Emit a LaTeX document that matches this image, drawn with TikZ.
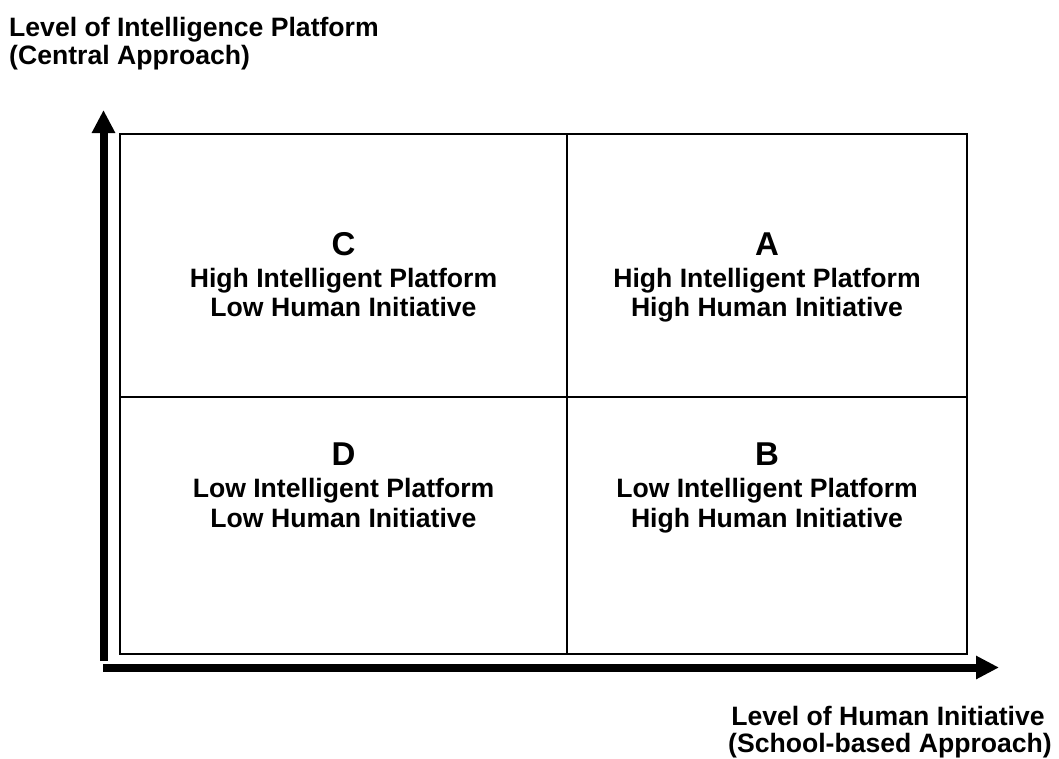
\documentclass[tikz,border=0pt]{standalone}
\usepackage{fontspec}
\setmainfont{Liberation Sans}
\usetikzlibrary{arrows.meta}
\tikzset{
  lbl/.style={font=\fontsize{26.6}{30}\selectfont\bfseries, inner sep=0pt, anchor=base},
  big/.style={font=\fontsize{33}{36}\selectfont\bfseries, inner sep=0pt, anchor=base},
  frame/.style={draw=black, line width=2pt},
  axis/.style={line width=8pt, -{Triangle[length=23pt,width=22pt]}}
}
\begin{document}
\begin{tikzpicture}[x=1pt,y=-1pt]
\useasboundingbox (0,0) rectangle (1059,758);
% grid
\draw[frame] (120,134) rectangle (967,654);
\coordinate (vt) at (567,134);
\coordinate (vb) at (567,654);
\coordinate (hl) at (120,397);
\coordinate (hr) at (967,397);
\draw[frame] (vt) -- (vb);
\draw[frame] (hl) -- (hr);
% axes
\coordinate (yorig) at (103.5,661);
\coordinate (ytip) at (103.5,110);
\coordinate (xorig) at (103,667.5);
\coordinate (xtip) at (999,667.5);
\draw[axis] (yorig) -- (ytip);
\draw[axis] (xorig) -- (xtip);
% axis labels
\node[lbl, anchor=base west] (yl1) at (9,36) {Level of Intelligence Platform};
\node[lbl, anchor=base west] (yl2) at (9,64) {(Central Approach)};
\node[lbl] (xl1) at (888,725) {Level of Human Initiative};
\node[lbl] (xl2) at (890,752) {(School-based Approach)};
% quadrant C
\node[big] (cL) at (343.5,255) {C};
\node[lbl] (c1) at (343.5,287) {High Intelligent Platform};
\node[lbl] (c2) at (343.5,316) {Low Human Initiative};
% quadrant A
\node[big] (aL) at (767,255) {A};
\node[lbl] (a1) at (767,287) {High Intelligent Platform};
\node[lbl] (a2) at (767,316) {High Human Initiative};
% quadrant D
\node[big] (dL) at (343.5,465) {D};
\node[lbl] (d1) at (343.5,497) {Low Intelligent Platform};
\node[lbl] (d2) at (343.5,527) {Low Human Initiative};
% quadrant B
\node[big] (bL) at (767,465) {B};
\node[lbl] (b1) at (767,497) {Low Intelligent Platform};
\node[lbl] (b2) at (767,527) {High Human Initiative};
\end{tikzpicture}
\end{document}
